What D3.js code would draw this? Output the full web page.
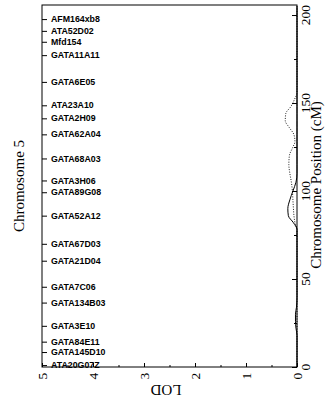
<!DOCTYPE html>
<html>
<head>
<meta charset="utf-8">
<script src="https://cdn.jsdelivr.net/npm/d3@7/dist/d3.min.js"></script>
<style>
  html, body { margin: 0; padding: 0; background: #fff; }
  svg { display: block; }
</style>
</head>
<body>
<svg id="chart" width="325" height="404"></svg>
<script>
// ---- data ----
const markers = ["AFM164xb8","ATA52D02","Mfd154","GATA11A11","GATA6E05","ATA23A10","GATA2H09",
  "GATA62A04","GATA68A03","GATA3H06","GATA89G08","GATA52A12","GATA67D03","GATA21D04",
  "GATA7C06","GATA134B03","GATA3E10","GATA84E11","GATA145D10","ATA20G07Z"];
const markerPos = [197.7,191,184.8,177.2,162,148.7,141.3,132.2,118.5,106,99.3,86,70,60.4,
  45.6,36.6,23.4,14.4,8.5,1.1];
const lodTicks = [0,1,2,3,4,5];
const lodMinorTicks = [0.5,1.5,2.5,3.5,4.5];
const posTicks = [0,50,100,150,200];
const posMinorTicks = [25,75,125,175];
const curvePos   = [0,10,18,22,26,30,34,40,50,60,70,78,82,86,90,95,100,105,110,115,120,125,128,132,136,140,144,148,152,156,160,180,205];
const solidLod   = [0,0,0,0.02,0.03,0.03,0.01,0,0,0,0,0,0.07,0.17,0.18,0.14,0.08,0.02,0,0,0,0,0,0,0,0,0,0,0,0,0,0,0];
const dottedLod  = [0,0,0,0,0,0,0,0,0,0,0,0,0.04,0.06,0.07,0.08,0.09,0.11,0.14,0.16,0.15,0.08,0.04,0.06,0.15,0.23,0.22,0.12,0.05,0,0,0,0];

// ---- layout ----
const svg = d3.select("#chart");
const mL = 42, mR = 297, mT = 5, mB = 367;
const x = d3.scaleLinear().domain([0,5]).range([mR,mL]);
const y = d3.scaleLinear().domain([0,205.7]).range([mB,mT]);

// frame
svg.append("rect").attr("x",mL).attr("y",mT).attr("width",mR-mL).attr("height",mB-mT)
  .attr("fill","none").attr("stroke","#000").attr("stroke-width",1);

// left marker axis
const gl = svg.append("g").attr("transform",`translate(${mL},0)`)
  .call(d3.axisLeft(y).tickValues(markerPos).tickSize(-5).tickFormat(""));
gl.select(".domain").remove();
gl.selectAll("line").attr("stroke","#000").attr("stroke-width",1);
svg.append("g").selectAll("text").data(markers).join("text")
  .attr("x", mL + 9)
  .attr("y", (d,i) => y(markerPos[i]))
  .attr("dy","0.35em")
  .attr("font-family","'Liberation Sans', Arial, sans-serif")
  .attr("font-weight","bold")
  .attr("font-size","8.8px")
  .attr("fill","#000")
  .text(d => d);

// right position axis
const gr = svg.append("g").attr("transform",`translate(${mR},0)`)
  .call(d3.axisRight(y).tickValues(posTicks).tickSize(-5).tickFormat(""));
gr.select(".domain").remove();
gr.selectAll("line").attr("stroke","#000");
const grm = svg.append("g").attr("transform",`translate(${mR},0)`)
  .call(d3.axisRight(y).tickValues(posMinorTicks).tickSize(-3).tickFormat(""));
grm.select(".domain").remove();
grm.selectAll("line").attr("stroke","#000");
svg.append("g").selectAll("text").data(posTicks).join("text")
  .attr("transform", d => `translate(${mR+8},${y(d)}) rotate(-90)`)
  .attr("text-anchor","middle")
  .attr("dy","0.35em")
  .attr("font-family","'Liberation Serif', 'Times New Roman', serif")
  .attr("font-size","13.5px")
  .attr("fill","#000")
  .text(d => d);

// bottom LOD axis
const gb = svg.append("g").attr("transform",`translate(0,${mB})`)
  .call(d3.axisBottom(x).tickValues(lodTicks).tickSize(-4).tickFormat(""));
gb.select(".domain").remove();
gb.selectAll("line").attr("stroke","#000");
const gbm = svg.append("g").attr("transform",`translate(0,${mB})`)
  .call(d3.axisBottom(x).tickValues(lodMinorTicks).tickSize(-2).tickFormat(""));
gbm.select(".domain").remove();
gbm.selectAll("line").attr("stroke","#000");
svg.append("g").selectAll("text").data(lodTicks).join("text")
  .attr("transform", d => `translate(${x(d)},${mB+9}) rotate(-90)`)
  .attr("text-anchor","middle")
  .attr("dy","0.35em")
  .attr("font-family","'Liberation Serif', 'Times New Roman', serif")
  .attr("font-size","13.5px")
  .attr("fill","#000")
  .text(d => d);

// axis titles
svg.append("text")
  .attr("transform", `translate(166,390) rotate(180)`)
  .attr("text-anchor","middle").attr("dy","0.35em")
  .attr("font-family","'Liberation Serif', 'Times New Roman', serif")
  .attr("font-size","15px").attr("fill","#000")
  .text("LOD");
svg.append("text")
  .attr("transform", `translate(19,186) rotate(-90)`)
  .attr("text-anchor","middle").attr("dy","0.35em")
  .attr("font-family","'Liberation Serif', 'Times New Roman', serif")
  .attr("font-size","15px").attr("fill","#000")
  .text("Chromosome 5");
svg.append("text")
  .attr("transform", `translate(316,185) rotate(-90)`)
  .attr("text-anchor","middle").attr("dy","0.35em")
  .attr("font-family","'Liberation Serif', 'Times New Roman', serif")
  .attr("font-size","15px").attr("fill","#000")
  .text("Chromosome Position (cM)");

// LOD curves
const line = d3.line().x(d => x(d[1])).y(d => y(d[0])).curve(d3.curveMonotoneY);
svg.append("path")
  .datum(curvePos.map((p,i) => [p, solidLod[i]]))
  .attr("d", line).attr("fill","none").attr("stroke","#000").attr("stroke-width",1);
svg.append("path")
  .datum(curvePos.map((p,i) => [p, dottedLod[i]]))
  .attr("d", line).attr("fill","none").attr("stroke","#000").attr("stroke-width",0.9)
  .attr("stroke-dasharray","1,1.5");
</script>
</body>
</html>
